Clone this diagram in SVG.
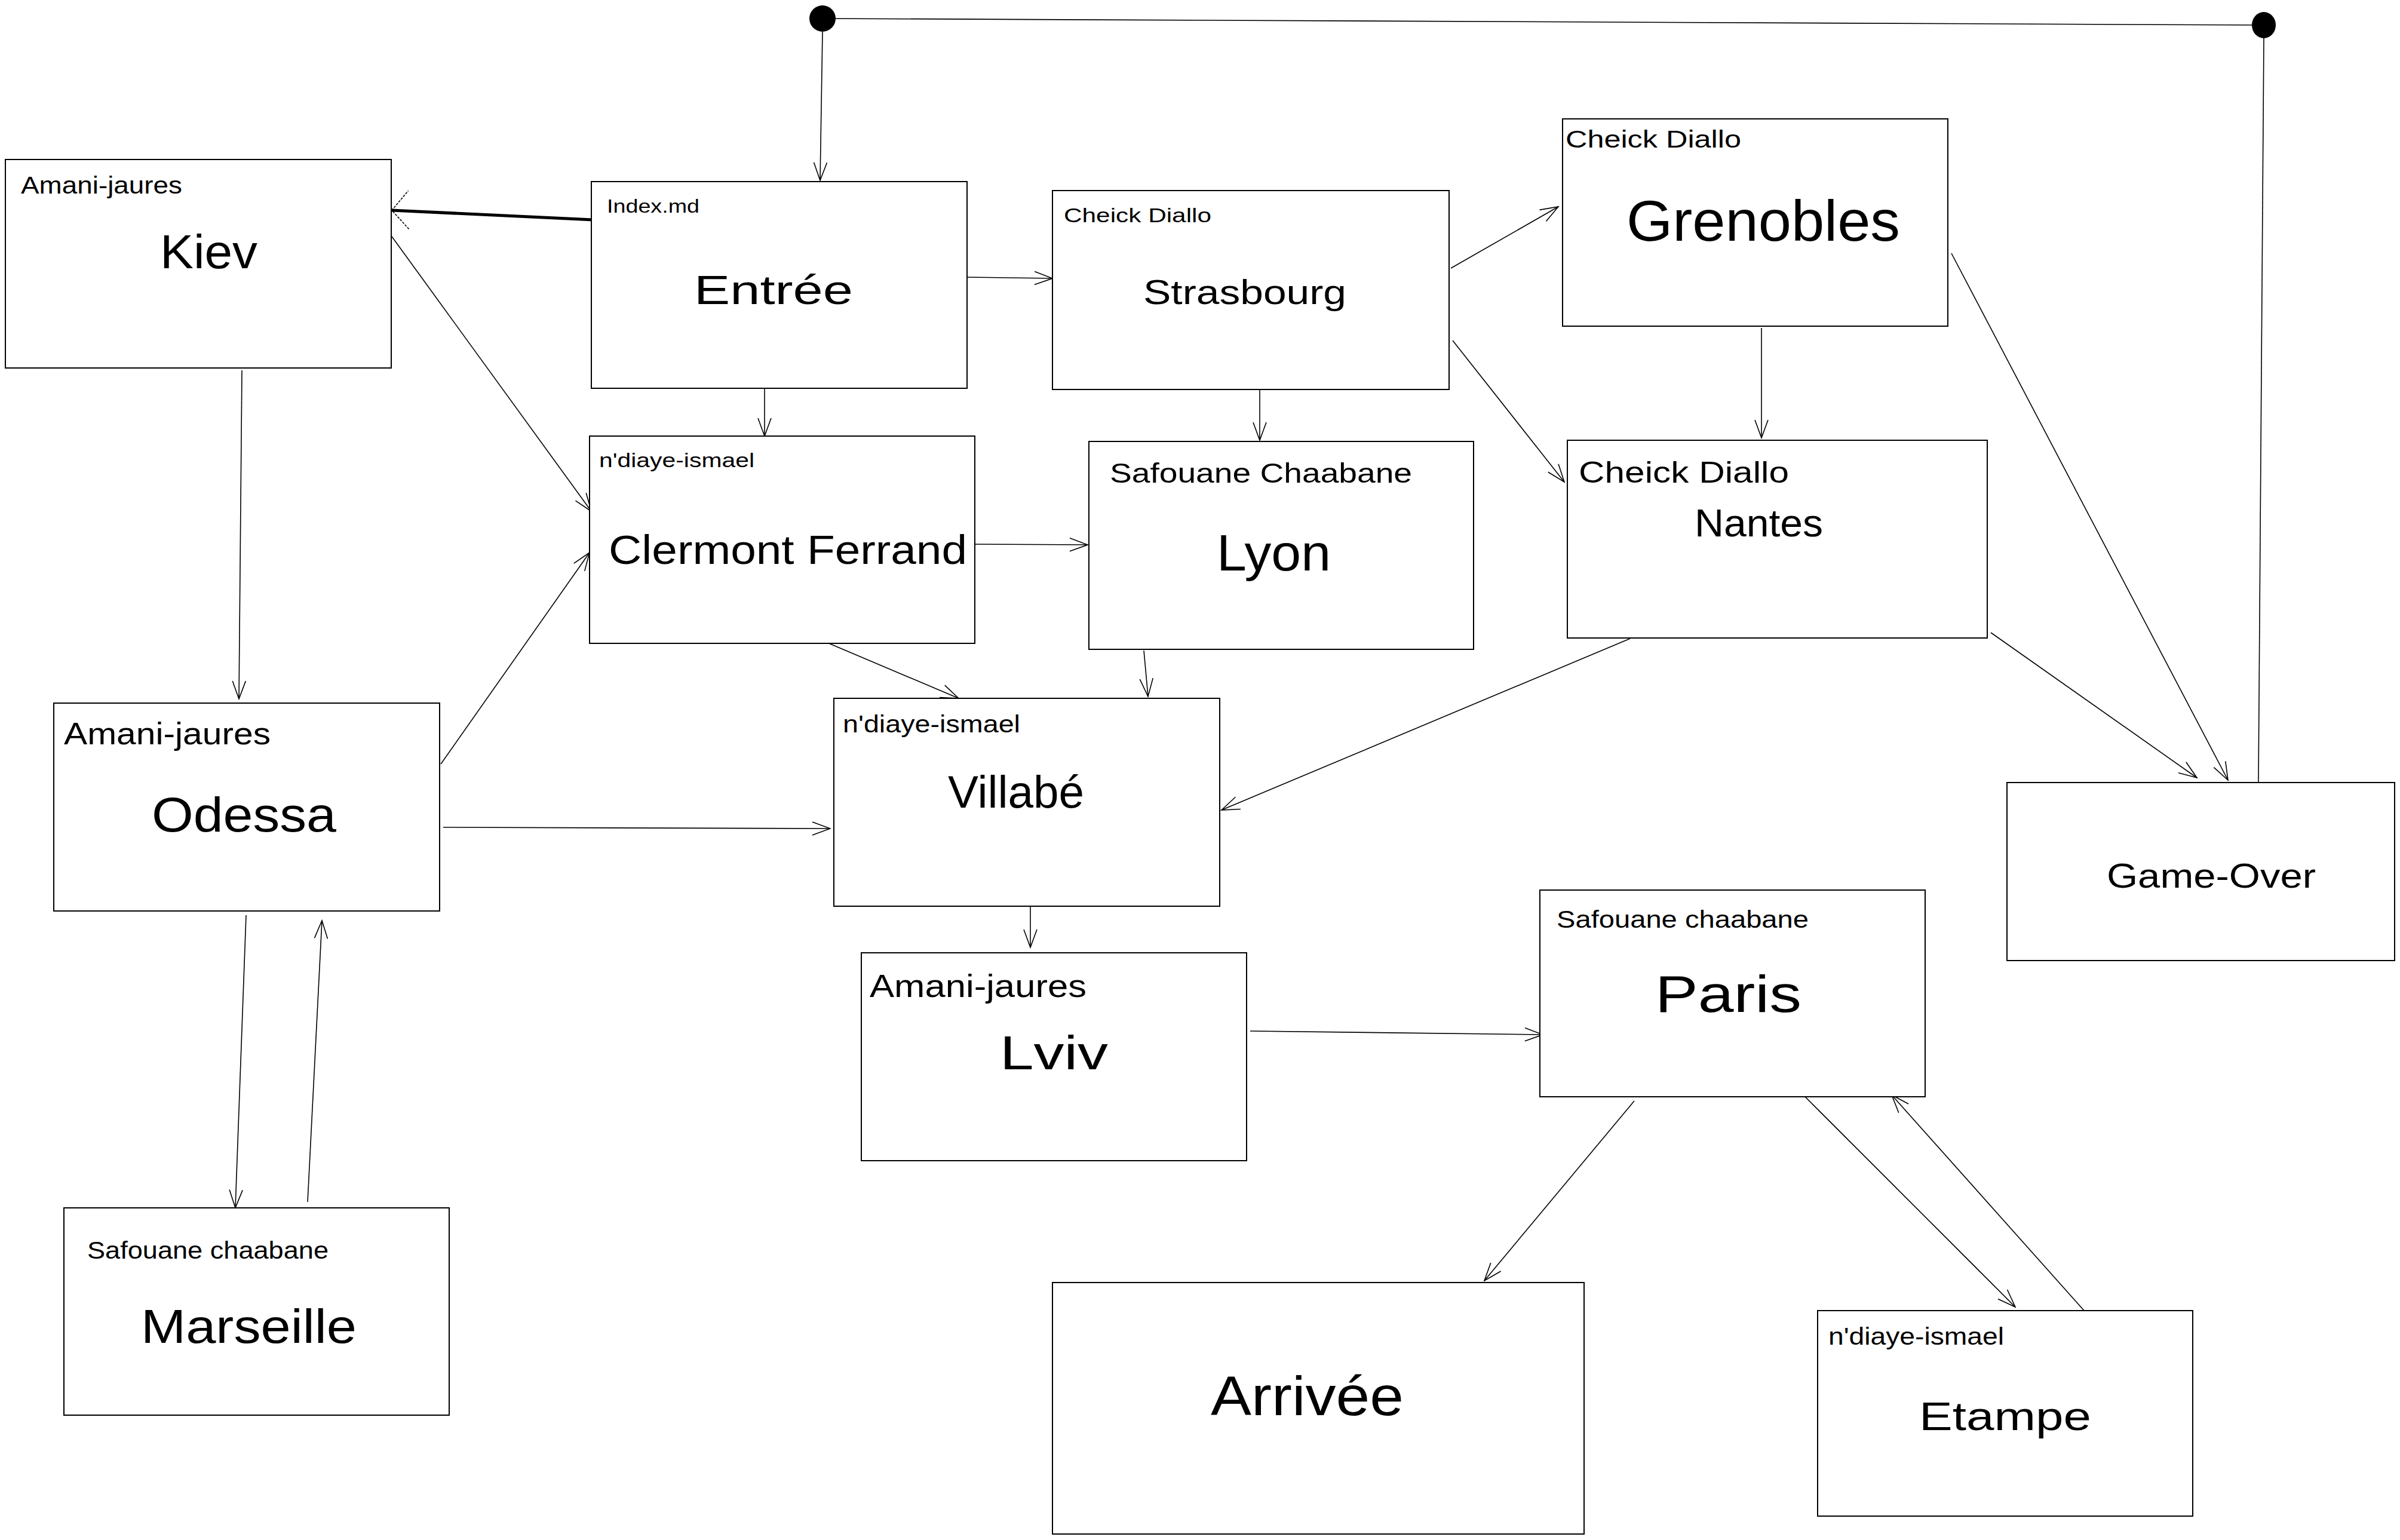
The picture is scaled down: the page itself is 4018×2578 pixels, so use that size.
<svg xmlns="http://www.w3.org/2000/svg" width="4018" height="2578" viewBox="0 0 4018 2578">
<style>
.box{fill:#fff;stroke:#000;stroke-width:2}
.t{font-family:"Liberation Sans",Arial,sans-serif;fill:#000}
.c{fill:none;stroke:#000;stroke-width:1.6;marker-end:url(#arr)}
.p{fill:none;stroke:#000;stroke-width:1.6}
</style>
<defs>
<marker id="arr" viewBox="-32 -14 34 28" refX="0" refY="0" markerWidth="34" markerHeight="28" markerUnits="userSpaceOnUse" orient="auto">
<path d="M-30,-11 L0,0 L-30,11" fill="none" stroke="#000" stroke-width="1.6"/>
</marker>
<marker id="arrK" viewBox="-44 -36 46 72" refX="0" refY="0" markerWidth="46" markerHeight="72" markerUnits="userSpaceOnUse" orient="auto">
<path d="M-30,-30 L0,0 L-26,34" fill="none" stroke="#000" stroke-width="1.6" stroke-dasharray="4 2"/>
</marker>
</defs>
<rect width="4018" height="2578" fill="#fff"/>
<g id="connectors">
<path class="p" d="M1377,31 L3790,42" stroke-width="2.5"/>
<path class="p" d="M3790,63 L3781,1310"/>
<path class="c" d="M1377,53 L1373,302"/>
<path d="M993,368 L656,352" fill="none" stroke="#000" stroke-width="5" marker-end="url(#arrK)"/>
<path class="c" d="M656,396 L990,856"/>
<path class="c" d="M405,620 L400,1170"/>
<path class="c" d="M1619,464 L1762,466"/>
<path class="c" d="M1280,650 L1280,730"/>
<path class="c" d="M2429,449 L2609,346"/>
<path class="c" d="M2109,652 L2109,737"/>
<path class="c" d="M2432,570 L2619,807"/>
<path class="c" d="M2949,549 L2949,733"/>
<path class="c" d="M3267,424 L3730,1306"/>
<path class="c" d="M3333,1059 L3678,1302"/>
<path class="c" d="M1632,911 L1821,912"/>
<path class="c" d="M1383,1075 L1605,1169"/>
<path class="c" d="M1915,1089 L1922,1166"/>
<path class="c" d="M2729,1069 L2045,1356"/>
<path class="c" d="M738,1279 L987,925"/>
<path class="c" d="M742,1385 L1390,1387"/>
<path class="c" d="M412,1532 L394,2022"/>
<path class="c" d="M515,2012 L539,1541"/>
<path class="c" d="M1725,1517 L1725,1586"/>
<path class="c" d="M2093,1726 L2583,1732"/>
<path class="c" d="M2736,1843 L2485,2144"/>
<path class="c" d="M3018,1832 L3374,2188"/>
<path class="c" d="M3490,2195 L3167,1833"/>
<ellipse cx="1377" cy="31" rx="22" ry="22" fill="#000"/>
<ellipse cx="3790" cy="42" rx="20" ry="22" fill="#000"/>
</g>
<g id="kiev">
<rect class="box" x="9" y="267" width="646" height="349"/>
<text class="t" x="35" y="324" font-size="40" textLength="270" lengthAdjust="spacingAndGlyphs">Amani-jaures</text>
<text class="t" x="268" y="449" font-size="80" textLength="163" lengthAdjust="spacingAndGlyphs">Kiev</text>
</g>
<g id="entree">
<rect class="box" x="990" y="304" width="629" height="346"/>
<text class="t" x="1016" y="356" font-size="32" textLength="155" lengthAdjust="spacingAndGlyphs">Index.md</text>
<text class="t" x="1162" y="509" font-size="68" textLength="266" lengthAdjust="spacingAndGlyphs">Entrée</text>
</g>
<g id="strasbourg">
<rect class="box" x="1762" y="319" width="664" height="333"/>
<text class="t" x="1781" y="372" font-size="34" textLength="247" lengthAdjust="spacingAndGlyphs">Cheick Diallo</text>
<text class="t" x="1914" y="509" font-size="58" textLength="340" lengthAdjust="spacingAndGlyphs">Strasbourg</text>
</g>
<g id="grenobles">
<rect class="box" x="2616" y="199" width="645" height="347"/>
<text class="t" x="2621" y="247" font-size="40" textLength="294" lengthAdjust="spacingAndGlyphs">Cheick Diallo</text>
<text class="t" x="2723" y="403" font-size="96" textLength="458" lengthAdjust="spacingAndGlyphs">Grenobles</text>
</g>
<g id="clermont">
<rect class="box" x="987" y="730" width="645" height="347"/>
<text class="t" x="1003" y="782" font-size="34" textLength="260" lengthAdjust="spacingAndGlyphs">n'diaye-ismael</text>
<text class="t" x="1019" y="944" font-size="68" textLength="600" lengthAdjust="spacingAndGlyphs">Clermont Ferrand</text>
</g>
<g id="lyon">
<rect class="box" x="1823" y="739" width="644" height="348"/>
<text class="t" x="1858" y="808" font-size="46" textLength="506" lengthAdjust="spacingAndGlyphs">Safouane Chaabane</text>
<text class="t" x="2037" y="955" font-size="85" textLength="191" lengthAdjust="spacingAndGlyphs">Lyon</text>
</g>
<g id="nantes">
<rect class="box" x="2624" y="737" width="703" height="331"/>
<text class="t" x="2643" y="808" font-size="50" textLength="352" lengthAdjust="spacingAndGlyphs">Cheick Diallo</text>
<text class="t" x="2837" y="898" font-size="64" textLength="215" lengthAdjust="spacingAndGlyphs">Nantes</text>
</g>
<g id="odessa">
<rect class="box" x="90" y="1177" width="646" height="348"/>
<text class="t" x="107" y="1246" font-size="52" textLength="346" lengthAdjust="spacingAndGlyphs">Amani-jaures</text>
<text class="t" x="254" y="1392" font-size="82" textLength="309" lengthAdjust="spacingAndGlyphs">Odessa</text>
</g>
<g id="villabe">
<rect class="box" x="1396" y="1169" width="646" height="348"/>
<text class="t" x="1411" y="1226" font-size="40" textLength="297" lengthAdjust="spacingAndGlyphs">n'diaye-ismael</text>
<text class="t" x="1587" y="1352" font-size="76" textLength="228" lengthAdjust="spacingAndGlyphs">Villabé</text>
</g>
<g id="gameover">
<rect class="box" x="3360" y="1310" width="649" height="298"/>
<text class="t" x="3527" y="1486" font-size="58" textLength="350" lengthAdjust="spacingAndGlyphs">Game-Over</text>
</g>
<g id="paris">
<rect class="box" x="2578" y="1490" width="645" height="346"/>
<text class="t" x="2606" y="1553" font-size="40" textLength="422" lengthAdjust="spacingAndGlyphs">Safouane chaabane</text>
<text class="t" x="2771" y="1694" font-size="88" textLength="245" lengthAdjust="spacingAndGlyphs">Paris</text>
</g>
<g id="lviv">
<rect class="box" x="1442" y="1595" width="645" height="348"/>
<text class="t" x="1456" y="1669" font-size="54" textLength="363" lengthAdjust="spacingAndGlyphs">Amani-jaures</text>
<text class="t" x="1674" y="1790" font-size="80" textLength="181" lengthAdjust="spacingAndGlyphs">Lviv</text>
</g>
<g id="marseille">
<rect class="box" x="107" y="2022" width="645" height="347"/>
<text class="t" x="146" y="2107" font-size="40" textLength="404" lengthAdjust="spacingAndGlyphs">Safouane chaabane</text>
<text class="t" x="236" y="2248" font-size="80" textLength="361" lengthAdjust="spacingAndGlyphs">Marseille</text>
</g>
<g id="arrivee">
<rect class="box" x="1762" y="2147" width="890" height="421"/>
<text class="t" x="2027" y="2369" font-size="92" textLength="323" lengthAdjust="spacingAndGlyphs">Arrivée</text>
</g>
<g id="etampe">
<rect class="box" x="3043" y="2194" width="628" height="344"/>
<text class="t" x="3061" y="2251" font-size="40" textLength="294" lengthAdjust="spacingAndGlyphs">n'diaye-ismael</text>
<text class="t" x="3213" y="2394" font-size="66" textLength="288" lengthAdjust="spacingAndGlyphs">Etampe</text>
</g>
</svg>
